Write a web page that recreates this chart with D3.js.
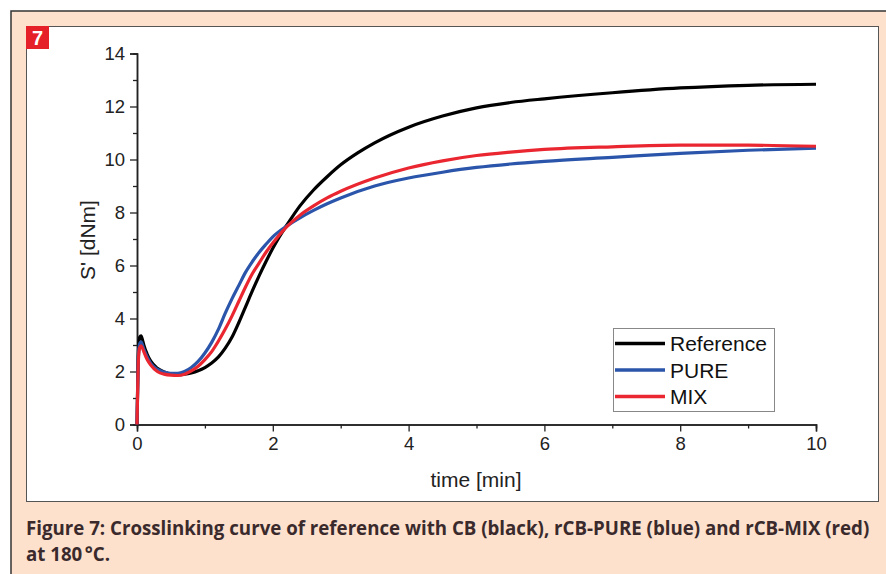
<!DOCTYPE html>
<html lang="en">
<head>
    <meta charset="UTF-8">
    <title>Figure 7 - Crosslinking curve</title>
    <script src="https://d3js.org/d3.v7.min.js"></script>
    <style>
        body { margin: 0; background: #fff; }
        svg { display: block; }
    </style>
</head>
<body>
<script>
    // curve data (time in min, S' in dNm)
    const timeRef = [0, 0.01, 0.02, 0.04, 0.06, 0.08, 0.1, 0.15, 0.2, 0.3, 0.4, 0.5, 0.6, 0.7, 0.8, 0.9, 1.0, 1.1, 1.2, 1.3, 1.4, 1.5, 1.6, 1.7, 1.8, 1.9, 2.0, 2.1, 2.2, 2.4, 2.6, 2.8, 3.0, 3.25, 3.5, 4, 4.5, 5, 5.5, 6, 7, 8, 9, 10];
    const sRef = [0, 1.5, 2.7, 3.3, 3.35, 3.2, 3.0, 2.65, 2.4, 2.12, 1.98, 1.9, 1.88, 1.9, 1.95, 2.03, 2.15, 2.32, 2.55, 2.88, 3.3, 3.85, 4.45, 5.05, 5.62, 6.15, 6.65, 7.1, 7.5, 8.25, 8.85, 9.35, 9.8, 10.25, 10.63, 11.22, 11.64, 11.95, 12.15, 12.29, 12.52, 12.7, 12.8, 12.84];

    const timeMix = [0, 0.01, 0.02, 0.04, 0.06, 0.08, 0.1, 0.15, 0.2, 0.3, 0.4, 0.5, 0.6, 0.7, 0.8, 0.9, 1.0, 1.1, 1.2, 1.3, 1.4, 1.5, 1.6, 1.7, 1.8, 1.9, 2.0, 2.2, 2.4, 2.6, 2.8, 3.0, 3.5, 4, 4.5, 5, 5.5, 6, 7, 8, 9, 10];
    const sPure = [0, 1.4, 2.55, 3.05, 3.12, 3.0, 2.85, 2.55, 2.32, 2.08, 1.98, 1.93, 1.93, 2.0, 2.15, 2.38, 2.7, 3.1, 3.6, 4.2, 4.75, 5.25, 5.75, 6.15, 6.5, 6.8, 7.08, 7.48, 7.8, 8.08, 8.33, 8.55, 9.0, 9.3, 9.52, 9.7, 9.83, 9.93, 10.08, 10.23, 10.35, 10.43];
    const sMix = [0, 1.3, 2.4, 2.9, 2.97, 2.88, 2.75, 2.45, 2.25, 2.0, 1.9, 1.86, 1.85, 1.9, 2.02, 2.2, 2.45, 2.75, 3.15, 3.6, 4.1, 4.65, 5.2, 5.7, 6.1, 6.5, 6.85, 7.45, 7.9, 8.25, 8.55, 8.8, 9.3, 9.68, 9.95, 10.15, 10.28, 10.38, 10.48, 10.54, 10.54, 10.5];

    const seriesNames = ["Reference", "PURE", "MIX"];
    const seriesColors = ["#000000", "#2a55aa", "#ea2630"];

    const xTicks = [0, 2, 4, 6, 8, 10];
    const yTicks = [0, 2, 4, 6, 8, 10, 12, 14];

    const W = 886, H = 574;
    const font = "'Liberation Sans', Arial, sans-serif";

    const svg = d3.select("body").append("svg")
        .attr("width", W)
        .attr("height", H);

    // peach frame + white chart panel
    svg.append("rect").attr("x", 0).attr("y", 0).attr("width", W).attr("height", H).attr("fill", "#fff");
    svg.append("rect").attr("x", 11).attr("y", 11).attr("width", W).attr("height", H)
        .attr("fill", "#fde1cd").attr("stroke", "#333").attr("stroke-width", 1.5);
    svg.append("rect").attr("x", 26.5).attr("y", 26.5).attr("width", 852).attr("height", 475)
        .attr("fill", "#fff").attr("stroke", "#555").attr("stroke-width", 1);

    // figure number badge
    svg.append("rect").attr("x", 26).attr("y", 26).attr("width", 23).attr("height", 23).attr("fill", "#e52028");
    svg.append("text").attr("x", 37.5).attr("y", 45)
        .attr("text-anchor", "middle")
        .style("font-family", font)
        .style("font-weight", "bold").style("font-size", "20px")
        .attr("fill", "#fff").text("7");

    // scales
    const x = d3.scaleLinear().domain([0, 10]).range([137, 816]);
    const y = d3.scaleLinear().domain([0, 14]).range([424.5, 53.5]);

    // axes: minor ticks first, then major with labels
    const gx = svg.append("g").attr("transform", "translate(0,424.5)");
    gx.append("g").call(d3.axisBottom(x).tickValues(d3.range(1, 10, 2)).tickSize(4).tickFormat(""));
    gx.append("g").call(d3.axisBottom(x).tickValues(xTicks).tickSize(7).tickPadding(5).tickFormat(d3.format("d")));

    const gy = svg.append("g").attr("transform", "translate(137,0)");
    gy.append("g").call(d3.axisLeft(y).tickValues(d3.range(1, 14, 2)).tickSize(4).tickFormat(""));
    gy.append("g").call(d3.axisLeft(y).tickValues(yTicks).tickSize(7).tickPadding(5).tickFormat(d3.format("d")));

    svg.selectAll(".tick text")
        .attr("font-family", font)
        .attr("font-size", 18.5)
        .attr("fill", "#222");
    svg.selectAll(".domain").attr("stroke", "#222").attr("stroke-width", 1.5);
    svg.selectAll(".tick line").attr("stroke", "#222").attr("stroke-width", 1.3);

    // axis titles
    svg.append("text").attr("x", 476).attr("y", 487)
        .attr("text-anchor", "middle")
        .style("font-family", font).style("font-size", "21px")
        .attr("fill", "#222").text("time [min]");
    svg.append("text")
        .attr("transform", "translate(95,240) rotate(-90)")
        .attr("text-anchor", "middle")
        .style("font-family", font).style("font-size", "21px")
        .attr("fill", "#222").text("S' [dNm]");

    // curves
    const line = d3.line()
        .x(d => x(d[0]))
        .y(d => y(d[1]))
        .curve(d3.curveMonotoneX);

    const series = [
        d3.zip(timeRef, sRef),
        d3.zip(timeMix, sPure),
        d3.zip(timeMix, sMix)
    ];

    series.forEach((pts, i) => {
        svg.append("path")
            .datum(pts)
            .attr("fill", "none")
            .attr("stroke", seriesColors[i])
            .attr("stroke-width", 3.2)
            .attr("stroke-linejoin", "round")
            .attr("d", line);
    });

    // legend
    const legend = svg.append("g").attr("transform", "translate(613,328)");
    legend.append("rect").attr("x", 0.5).attr("y", 0.5).attr("width", 161).attr("height", 83)
        .attr("fill", "#fff").attr("stroke", "#888").attr("stroke-width", 1);
    seriesNames.forEach((name, i) => {
        const ly = 15.5 + i * 26.5;
        legend.append("line").attr("x1", 2).attr("x2", 52).attr("y1", ly).attr("y2", ly)
            .attr("stroke", seriesColors[i]).attr("stroke-width", 3.5);
        legend.append("text").attr("x", 57).attr("y", ly + 7.5)
            .style("font-family", font).style("font-size", "21px")
            .attr("fill", "#111").text(name);
    });

    // caption
    const caption = [
        "Figure 7: Crosslinking curve of reference with CB (black), rCB-PURE (blue) and rCB-MIX (red)",
        "at 180\u202f°C."
    ];
    caption.forEach((t, i) => {
        svg.append("text").attr("x", 26).attr("y", 535 + i * 25.5)
            .style("font-family", "'Liberation Sans Narrow', 'Open Sans', sans-serif")
            .style("font-weight", "bold").style("font-size", "18.7px")
            .attr("fill", "#3a2a2c").text(t);
    });
</script>
</body>
</html>
